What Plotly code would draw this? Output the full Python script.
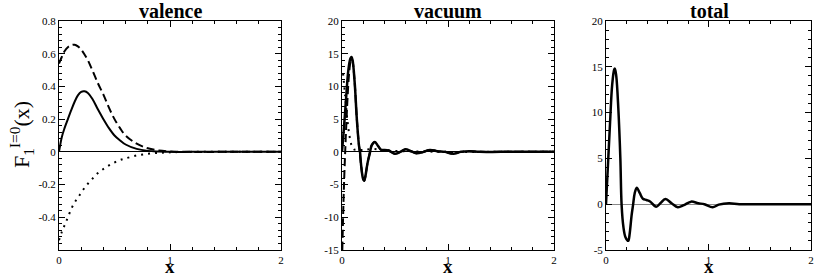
import plotly.graph_objects as go

# valence panel
x_val = [0, 0.025, 0.05, 0.08, 0.11, 0.14, 0.17, 0.2, 0.23, 0.26, 0.3, 0.35, 0.4,
         0.45, 0.5, 0.55, 0.6, 0.7, 0.8, 0.9, 1.0, 1.2, 1.5, 2.0]
val_solid = [0, 0.09, 0.145, 0.2, 0.255, 0.305, 0.345, 0.367, 0.37, 0.36, 0.325, 0.26, 0.2,
             0.145, 0.1, 0.07, 0.045, 0.018, 0.006, 0.002, 0.0, 0.0, 0.0, 0.0]
val_dash = [0.54, 0.58, 0.615, 0.64, 0.652, 0.655, 0.645, 0.625, 0.595, 0.56, 0.5, 0.42, 0.35,
            0.27, 0.2, 0.145, 0.1, 0.05, 0.022, 0.008, 0.003, 0.0, 0.0, 0.0]
val_dot = [-0.54, -0.49, -0.45, -0.4, -0.35, -0.31, -0.28, -0.25, -0.22, -0.195, -0.165, -0.13, -0.105,
           -0.083, -0.065, -0.05, -0.04, -0.022, -0.012, -0.006, -0.003, 0.0, 0.0, 0.0]

# vacuum panel
x_vac = [0, 0.02, 0.04, 0.06, 0.08, 0.09, 0.10, 0.12, 0.14, 0.16, 0.17, 0.18, 0.20, 0.21, 0.22,
         0.24, 0.265, 0.28, 0.31, 0.34, 0.37, 0.40, 0.44, 0.5, 0.55, 0.6, 0.65, 0.7, 0.77, 0.83,
         0.9, 0.97, 1.05, 1.12, 1.2, 1.3, 1.5, 2.0]
vac_solid = [0, 4, 8.5, 12.5, 14.3, 14.5, 14, 10.5, 5, 1, 0, -2, -4.2, -4.4, -3.8,
             -1.8, 0, 1.0, 1.5, 0.9, 0.3, 0.3, 0.2, -0.3, 0, 0.4, 0.1, -0.2, 0, 0.3,
             0.1, 0, -0.3, 0, 0.1, 0, 0, 0]
x_vac_dash = [0.003, 0.008, 0.015, 0.022, 0.03, 0.04, 0.05, 0.06, 0.07, 0.08, 0.09, 0.10, 0.12,
              0.14, 0.16, 0.18, 0.20, 0.21, 0.22, 0.24, 0.265, 0.28, 0.31, 0.34, 0.37, 0.40,
              0.44, 0.5, 0.55, 0.6, 0.65, 0.7, 0.77, 0.83, 0.9, 0.97, 1.05, 1.12, 1.2, 1.3, 1.5, 2.0]
vac_dash = [-15, -11.5, -7, -3.5, 0, 4, 7.5, 10.5, 12.5, 13.8, 14.2, 13.8, 10.5,
            5, 1, -2, -4.2, -4.4, -3.8, -1.8, 0, 1.0, 1.5, 0.9, 0.3, 0.3,
            0.2, -0.3, 0, 0.4, 0.1, -0.2, 0, 0.3, 0.1, 0, -0.3, 0, 0.1, 0, 0, 0]
x_vac_dot = [0.01, 0.03, 0.05, 0.07, 0.09, 0.11, 0.14, 0.2, 0.3, 0.4, 0.6, 0.8, 1.0, 1.5, 2.0]
vac_dot = [12, 8.5, 5, 2.5, 1.0, 0.4, 0.3, 0.3, 0.45, 0.2, 0.1, 0.05, 0, 0, 0]

# total panel
x_tot = [0, 0.02, 0.04, 0.06, 0.08, 0.087, 0.10, 0.12, 0.14, 0.152, 0.17, 0.19, 0.217, 0.23,
         0.25, 0.265, 0.28, 0.30, 0.33, 0.36, 0.395, 0.43, 0.49, 0.53, 0.58, 0.64, 0.70, 0.76,
         0.83, 0.9, 0.96, 1.04, 1.1, 1.2, 1.3, 1.5, 2.0]
tot_solid = [0, 4.5, 9, 13, 14.7, 14.8, 14, 10.5, 5, 0, -2.5, -3.6, -4.0, -3.3,
             -1.2, 0, 1.2, 1.8, 1.2, 0.6, 0.46, 0.3, -0.27, 0.1, 0.57, 0.1, -0.34, -0.1,
             0.28, 0.1, 0.0, -0.34, -0.05, 0.1, 0, 0, 0]

serif = "Liberation Serif"
W, H = 817, 273


def dom_x(a, b):
    return [a / W, b / W]


y_dom = [1 - 250 / H, 1 - 21 / H]

fig = go.Figure()

fig.add_trace(go.Scatter(x=x_val, y=val_dash, mode='lines', line=dict(color='black', width=2, dash='8px,4px', shape='spline'), xaxis='x', yaxis='y'))
fig.add_trace(go.Scatter(x=x_val, y=val_dot, mode='lines', line=dict(color='black', width=2, dash='2px,5px', shape='spline'), xaxis='x', yaxis='y'))
fig.add_trace(go.Scatter(x=x_val, y=val_solid, mode='lines', line=dict(color='black', width=2, shape='spline'), xaxis='x', yaxis='y'))

fig.add_trace(go.Scatter(x=x_vac_dot, y=vac_dot, mode='lines', line=dict(color='black', width=2, dash='2px,5px', shape='spline'), xaxis='x2', yaxis='y2'))
fig.add_trace(go.Scatter(x=x_vac_dash, y=vac_dash, mode='lines', line=dict(color='black', width=2, dash='8px,4px', shape='spline'), xaxis='x2', yaxis='y2'))
fig.add_trace(go.Scatter(x=x_vac, y=vac_solid, mode='lines', line=dict(color='black', width=2.5, shape='spline'), xaxis='x2', yaxis='y2'))

fig.add_trace(go.Scatter(x=x_tot, y=tot_solid, mode='lines', line=dict(color='black', width=2.5, shape='spline'), xaxis='x3', yaxis='y3'))

axis_common = dict(showline=True, linecolor='black', linewidth=1, mirror='ticks', ticks='inside',
                   ticklen=6, tickcolor='black', showgrid=False, automargin=False,
                   tickfont=dict(family=serif, size=11, color='black'))

xt = dict(range=[0, 2], tickvals=[0, 1, 2], ticktext=['0', '1', '2'],
          minor=dict(ticks='inside', dtick=0.2, tick0=0, ticklen=3, tickcolor='black'),
          zeroline=False, **axis_common)

fig.update_layout(
    template='none',
    width=W, height=H, autosize=False, showlegend=False,
    font=dict(family=serif, color='black'),
    margin=dict(l=0, r=0, t=0, b=0, pad=0),
    plot_bgcolor='white', paper_bgcolor='white',
    xaxis=dict(domain=dom_x(59, 281), anchor='y', **xt),
    xaxis2=dict(domain=dom_x(342, 554), anchor='y2', **xt),
    xaxis3=dict(domain=dom_x(606, 811), anchor='y3', **xt),
    yaxis=dict(domain=y_dom, anchor='x', range=[-0.6, 0.8],
               tickvals=[-0.4, -0.2, 0, 0.2, 0.4, 0.6, 0.8],
               ticktext=['-0.4', '-0.2', '0', '0.2', '0.4', '0.6', '0.8'],
               minor=dict(ticks='inside', dtick=0.04, tick0=0, ticklen=3, tickcolor='black'),
               zeroline=True, zerolinecolor='black', zerolinewidth=1, **axis_common),
    yaxis2=dict(domain=y_dom, anchor='x2', range=[-15, 20],
                tickvals=[-15, -10, -5, 0, 5, 10, 15, 20],
                ticktext=['-15', '-10', '-5', '0', '5', '10', '15', '20'],
                minor=dict(ticks='inside', dtick=1, tick0=0, ticklen=3, tickcolor='black'),
                zeroline=True, zerolinecolor='black', zerolinewidth=1, **axis_common),
    yaxis3=dict(domain=y_dom, anchor='x3', range=[-5, 20],
                tickvals=[-5, 0, 5, 10, 15, 20],
                ticktext=['-5', '0', '5', '10', '15', '20'],
                minor=dict(ticks='inside', dtick=1, tick0=0, ticklen=3, tickcolor='black'),
                zeroline=True, zerolinecolor='#888888', zerolinewidth=1, **axis_common),
)

# panel titles and x labels
for name, cx in [('valence', 170), ('vacuum', 448), ('total', 709)]:
    fig.add_annotation(text='<b>' + name + '</b>', x=cx / W, y=1 - 11 / H, xref='paper', yref='paper',
                       xanchor='center', yanchor='middle',
                       showarrow=False, font=dict(family=serif, size=20, color='black'))
    fig.add_annotation(text='<b>x</b>', x=cx / W, y=1 - 266 / H, xref='paper', yref='paper',
                       xanchor='center', yanchor='middle',
                       showarrow=False, font=dict(family=serif, size=19, color='black'))

fig.add_annotation(text='F<sub>1</sub><sup>I=0</sup>(x)', x=21 / W, y=1 - 135 / H,
                   xref='paper', yref='paper', showarrow=False, textangle=-90,
                   xanchor='center', yanchor='middle',
                   font=dict(family=serif, size=22, color='black'))

fig.write_html("out.html", config={'displayModeBar': False},
               post_script="document.body.style.margin='0';")
